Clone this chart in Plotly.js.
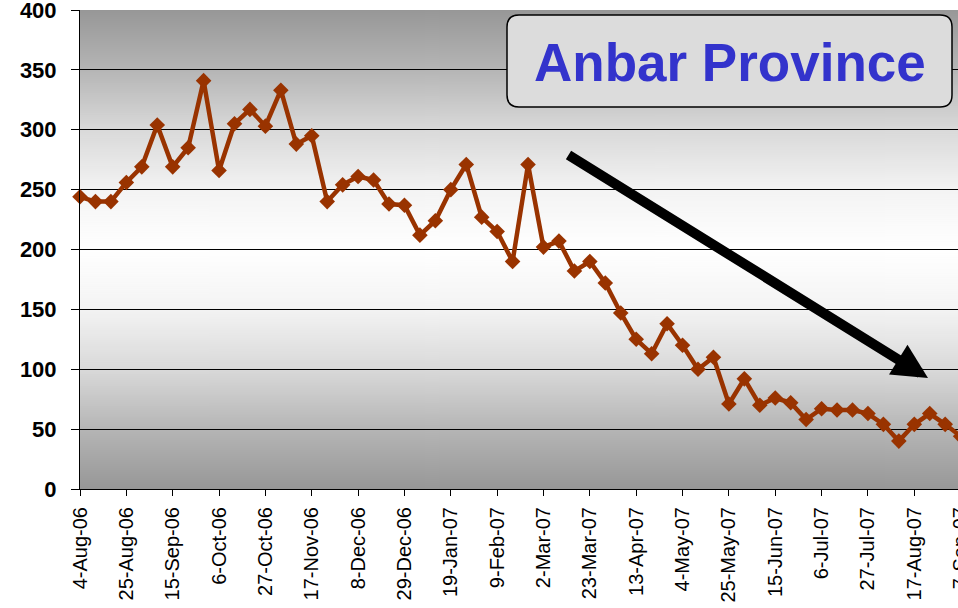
<!DOCTYPE html>
<html>
<head>
<meta charset="utf-8">
<script src="https://cdn.plot.ly/plotly-3.0.1.min.js"></script>
<style>
html,body{margin:0;padding:0;overflow:hidden;background:#fff;}
#chart{width:1000px;height:608px;}
</style>
</head>
<body>
<div id="chart"></div>
<script>
// ---- data ----
var weeks = [
 "2006-08-04","2006-08-11","2006-08-18","2006-08-25","2006-09-01","2006-09-08","2006-09-15","2006-09-22","2006-09-29",
 "2006-10-06","2006-10-13","2006-10-20","2006-10-27","2006-11-03","2006-11-10","2006-11-17","2006-11-24",
 "2006-12-01","2006-12-08","2006-12-15","2006-12-22","2006-12-29",
 "2007-01-05","2007-01-12","2007-01-19","2007-01-26","2007-02-02","2007-02-09","2007-02-16","2007-02-23",
 "2007-03-02","2007-03-09","2007-03-16","2007-03-23","2007-03-30","2007-04-06","2007-04-13","2007-04-20","2007-04-27",
 "2007-05-04","2007-05-11","2007-05-18","2007-05-25","2007-06-01","2007-06-08","2007-06-15","2007-06-22","2007-06-29",
 "2007-07-06","2007-07-13","2007-07-20","2007-07-27","2007-08-03","2007-08-10","2007-08-17","2007-08-24","2007-08-31",
 "2007-09-07"
];
var attacks = [
 244,240,240,256,269,304,269,285,341,
 266,305,317,303,333,288,295,240,
 254,261,258,238,237,
 212,224,250,271,227,215,190,271,
 202,207,182,190,172,147,125,113,138,
 120,100,110,71,92,70,76,72,58,
 67,66,66,63,54,40,54,63,54,
 44
];
var yTicks = [0,50,100,150,200,250,300,350,400];
var titleText = "Anbar Province";

// ---- layout geometry (pixels) ----
var W = 1000, H = 608;
var M = {l:80, r:0, t:10, b:119};
var PW = W - M.l - M.r, PH = H - M.t - M.b;
function px(x){ return (x - M.l) / PW; }
function py(y){ return (H - M.b - y) / PH; }

// smooth vertical gradient for the plot background
var cv = document.createElement('canvas');
cv.width = 4; cv.height = PH;
var cx = cv.getContext('2d');
var gr = cx.createLinearGradient(0, 0, 0, PH);
gr.addColorStop(0, '#979797');
gr.addColorStop(0.12, '#b4b4b4');
gr.addColorStop(0.25, '#d9d9d9');
gr.addColorStop(0.38, '#f4f4f4');
gr.addColorStop(0.5, '#ffffff');
gr.addColorStop(0.62, '#f4f4f4');
gr.addColorStop(0.75, '#d9d9d9');
gr.addColorStop(0.88, '#b4b4b4');
gr.addColorStop(1, '#979797');
cx.fillStyle = gr; cx.fillRect(0, 0, 4, PH);
var bgURL = cv.toDataURL('image/png');

var shapes = [];
// rounded title box
(function(){
  var L=507, R=952, T=15, B=107, r=12;
  var rx = r/PW, ry = r/PH;
  var x0=px(L), x1=px(R), yt=py(T), yb=py(B);
  var p = 'M'+(x0+rx)+','+yt+
    ' L'+(x1-rx)+','+yt+' Q'+x1+','+yt+' '+x1+','+(yt-ry)+
    ' L'+x1+','+(yb+ry)+' Q'+x1+','+yb+' '+(x1-rx)+','+yb+
    ' L'+(x0+rx)+','+yb+' Q'+x0+','+yb+' '+x0+','+(yb+ry)+
    ' L'+x0+','+(yt-ry)+' Q'+x0+','+yt+' '+(x0+rx)+','+yt+' Z';
  shapes.push({type:'path', xref:'paper', yref:'paper', path:p,
    fillcolor:'#dcdcdc', line:{color:'#000', width:1.5}, layer:'above'});
})();

var trace = {
  x: weeks, y: attacks, type:'scatter', mode:'lines+markers',
  line:{color:'#993300', width:4.5},
  marker:{symbol:'diamond', size:12, color:'#993300'},
  cliponaxis:false, hoverinfo:'skip'
};

var font = "'Liberation Sans', Arial, sans-serif";
var layout = {
  width: W, height: H,
  margin: M,
  paper_bgcolor:'#ffffff', plot_bgcolor:'rgba(0,0,0,0)',
  showlegend:false,
  images:[{source:bgURL, xref:'paper', yref:'paper', x:0, y:1, sizex:1, sizey:1,
           sizing:'stretch', xanchor:'left', yanchor:'top', layer:'below'}],
  xaxis:{
    type:'date', range:['2006-08-04', '2007-09-24 20:00'],
    tick0:'2006-08-04', dtick: 21*24*3600*1000,
    tickformat:'%-d-%b-%y', tickangle:-90,
    ticks:'outside', ticklen:6, tickcolor:'#000',
    tickfont:{family:font, size:20, color:'#000'},
    showline:true, linecolor:'#000', linewidth:1,
    showgrid:false, zeroline:false, ticklabelstandoff:3,
    ticklabeloverflow:'allow'
  },
  yaxis:{
    range:[0,400], tickvals:yTicks, ticktext:yTicks.map(String),
    ticks:'outside', ticklen:8, tickcolor:'#000',
    tickfont:{family:font, size:22, color:'#000', weight:'bold'},
    showline:true, linecolor:'#000', linewidth:1,
    showgrid:true, gridcolor:'#000', gridwidth:1, zeroline:false,
    ticklabelstandoff:10, ticklabeloverflow:'allow'
  },
  shapes: shapes,
  annotations:[
    {xref:'paper', yref:'paper', x:px(928), y:py(378), ax:567-928, ay:154-378,
     text:'', showarrow:true, arrowhead:2, arrowwidth:10, arrowsize:0.7, arrowcolor:'#000', standoff:0},
    {xref:'paper', yref:'paper', x:px(729.5), y:py(62), xanchor:'center', yanchor:'middle',
     text:titleText, showarrow:false,
     font:{family:font, size:53, color:'#3333cc', weight:'bold'}}
  ]
};

Plotly.newPlot('chart', [trace], layout, {displayModeBar:false, staticPlot:true});
</script>
</body>
</html>
